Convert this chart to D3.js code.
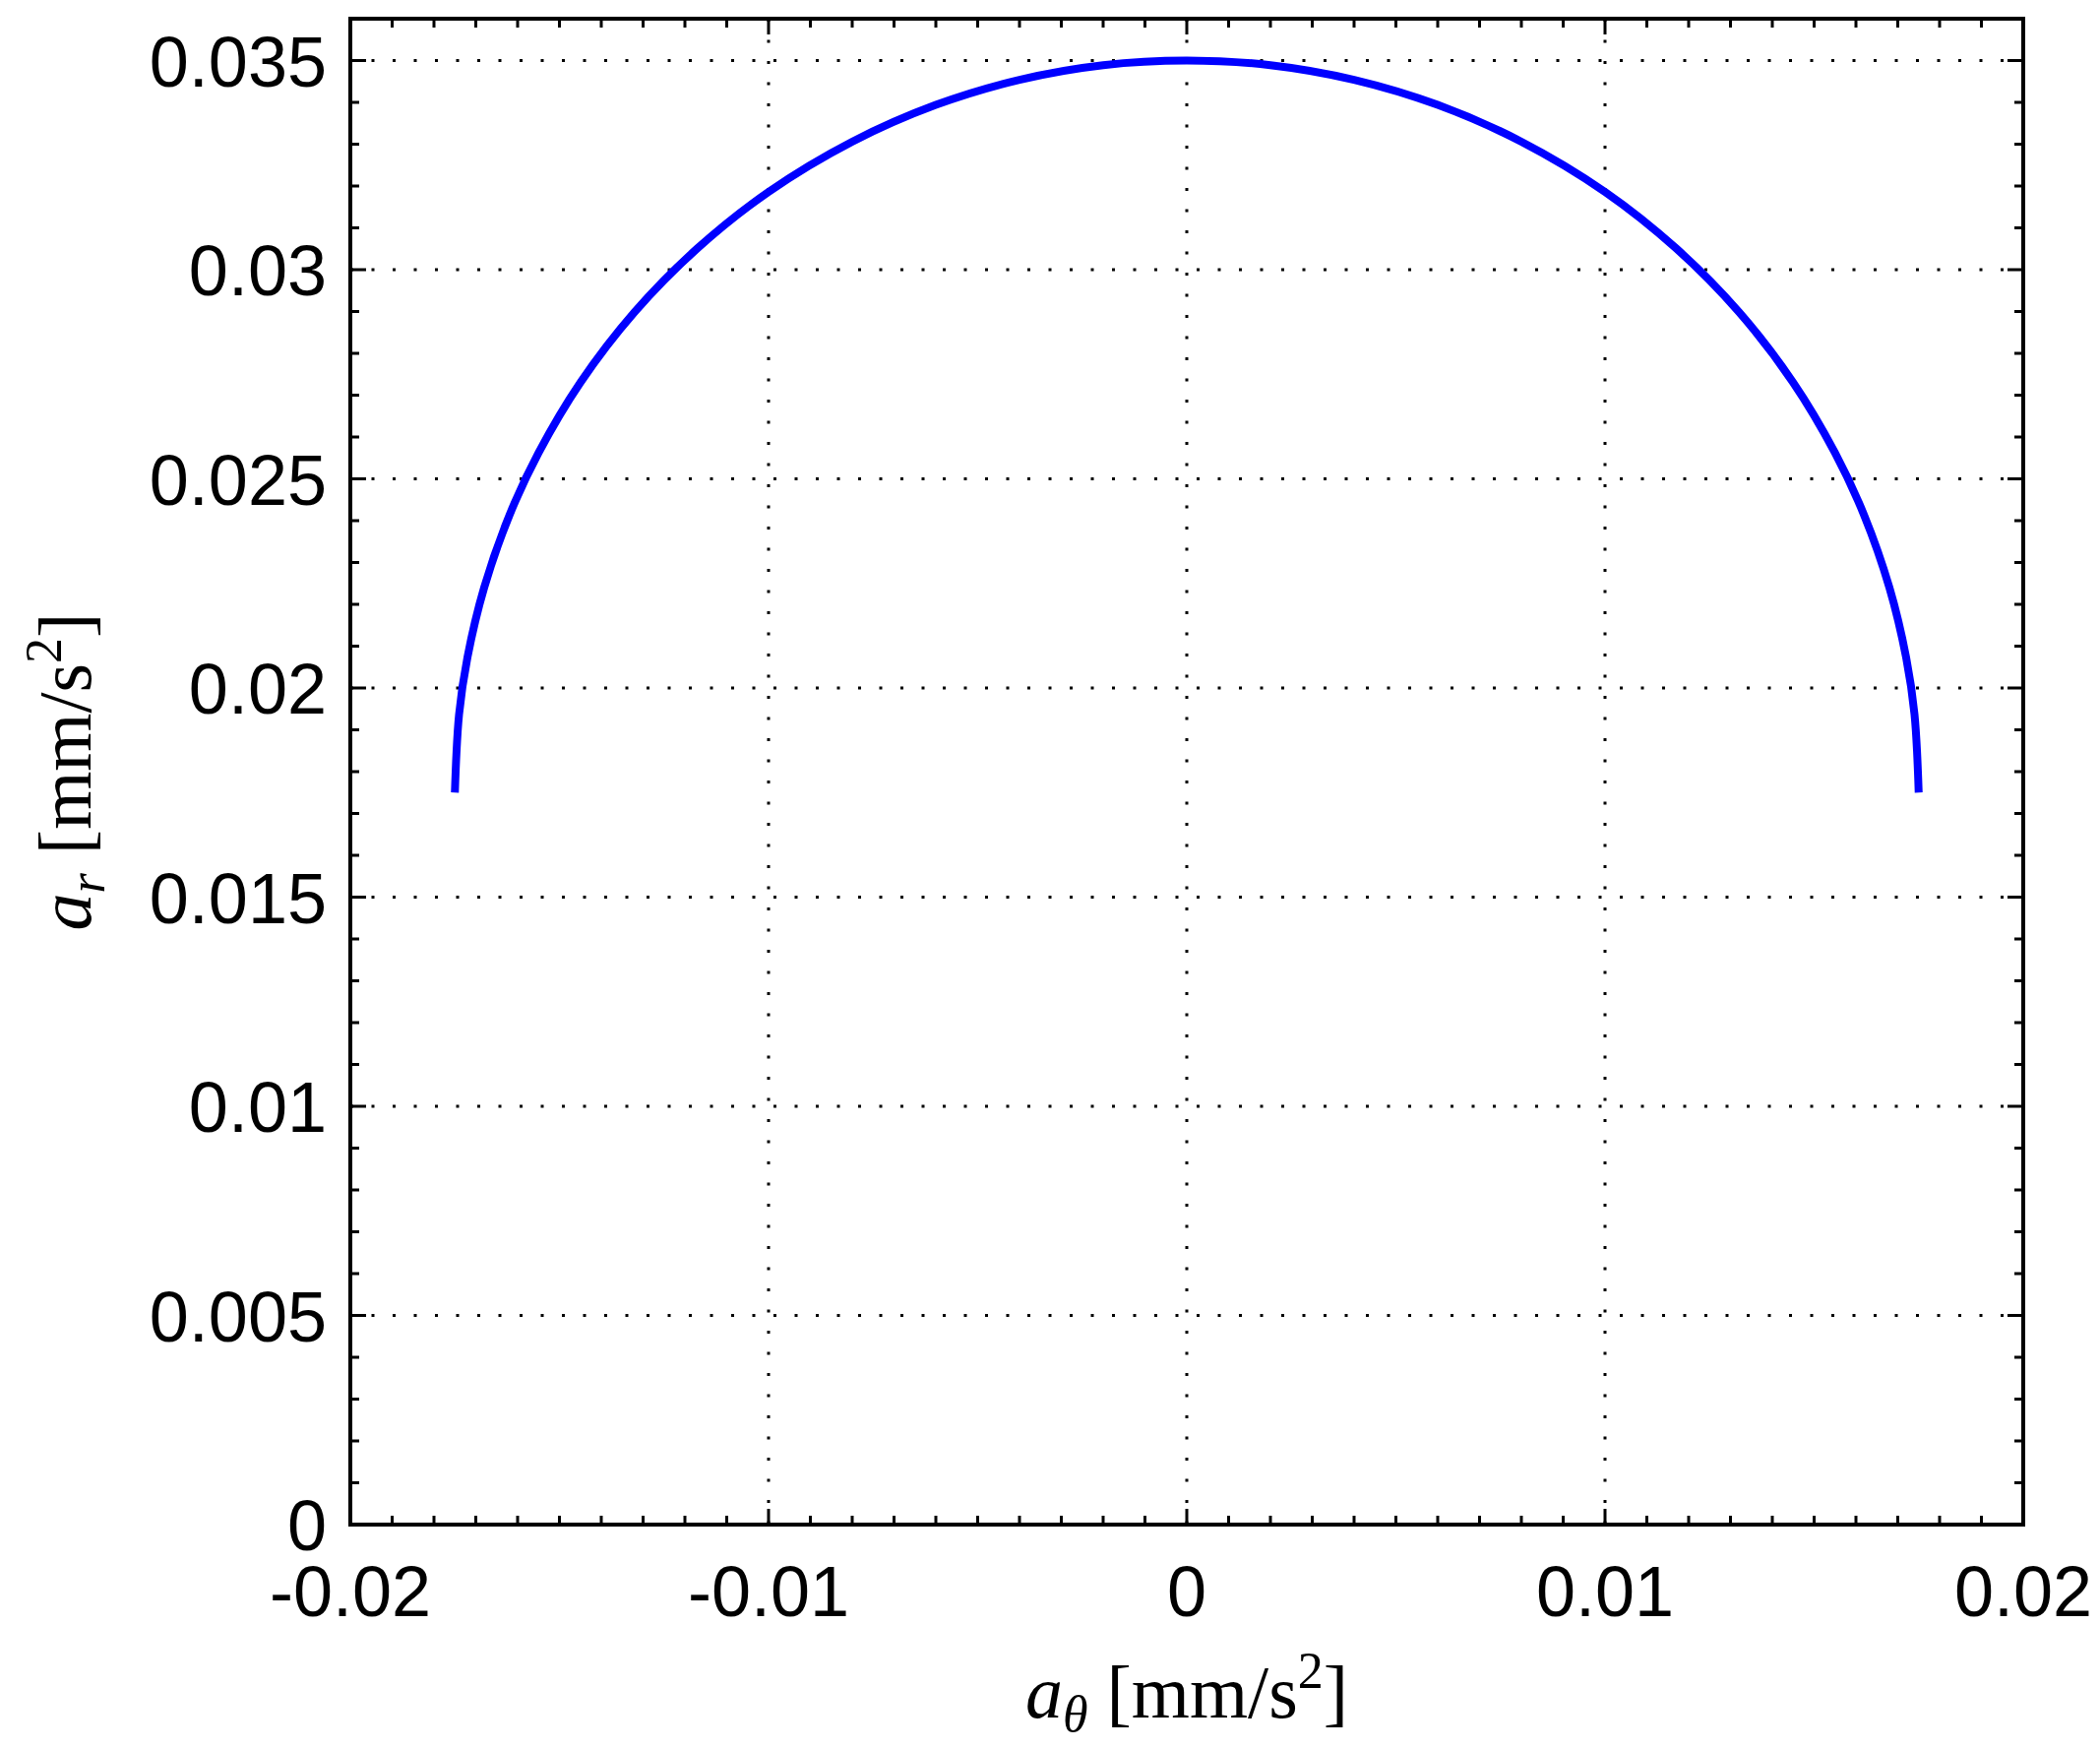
<!DOCTYPE html>
<html><head><meta charset="utf-8">
<script src="https://cdn.jsdelivr.net/npm/d3@7"></script>
<style>body{margin:0;background:#fff}</style>
</head><body><div id="vis"></div>
<script>
const xVals = [-0.0175,-0.0174,-0.0172,-0.0168,-0.0162,-0.0155,-0.0145,-0.0132,-0.0117,-0.01,-0.008,-0.006,-0.004,-0.002,0,
                0.002,0.004,0.006,0.008,0.01,0.0117,0.0132,0.0145,0.0155,0.0162,0.0168,0.0172,0.0174,0.0175];
const yVals = [0.0175,0.01937,0.02073,0.0224,0.02412,0.02562,0.0273,0.02899,0.03051,0.03186,0.03306,0.03394,0.03454,0.03489,0.035,
                0.03489,0.03454,0.03394,0.03306,0.03186,0.03051,0.02899,0.0273,0.02562,0.02412,0.0224,0.02073,0.01937,0.0175];
const xTicks = [-0.02,-0.01,0,0.01,0.02];
const xTickLabels = ['-0.02','-0.01','0','0.01','0.02'];
const yTicks = [0,0.005,0.01,0.015,0.02,0.025,0.03,0.035];
const yTickLabels = ['0','0.005','0.01','0.015','0.02','0.025','0.03','0.035'];

let W = 2134, H = 1777;
let m = {left: 356, right: 2056, top: 19, bottom: 1549};

let svg = d3.select('#vis').append('svg').attr('width', W).attr('height', H);

let x = d3.scaleLinear().domain([-0.02, 0.02]).range([m.left, m.right]);
let y = d3.scaleLinear().domain([0, 0.036]).range([m.bottom, m.top]);

// grid
svg.append('g').selectAll('line').data(xTicks.slice(1, -1)).enter().append('line')
    .attr('x1', d => x(d)).attr('x2', d => x(d)).attr('y1', m.top).attr('y2', m.bottom)
    .attr('stroke', '#000').attr('stroke-width', 3).attr('stroke-dasharray', '3,18.5');
svg.append('g').selectAll('line').data(yTicks.slice(1)).enter().append('line')
    .attr('x1', m.left).attr('x2', m.right).attr('y1', d => y(d)).attr('y2', d => y(d))
    .attr('stroke', '#000').attr('stroke-width', 3).attr('stroke-dasharray', '3,18.5');

// ticks inward, all four sides
let minorX = d3.range(-0.02, 0.02001, 0.001);
let minorY = d3.range(0, 0.03601, 0.001);
let tk = svg.append('g').attr('stroke', '#000').attr('stroke-width', 3);
minorX.forEach(v => {
    let big = xTicks.some(t => Math.abs(t - v) < 1e-9), L = big ? 16 : 9;
    tk.append('line').attr('x1', x(v)).attr('x2', x(v)).attr('y1', m.bottom).attr('y2', m.bottom - L);
    tk.append('line').attr('x1', x(v)).attr('x2', x(v)).attr('y1', m.top).attr('y2', m.top + L);
});
minorY.forEach(v => {
    let big = yTicks.some(t => Math.abs(t - v) < 1e-9), L = big ? 16 : 9;
    tk.append('line').attr('y1', y(v)).attr('y2', y(v)).attr('x1', m.left).attr('x2', m.left + L);
    tk.append('line').attr('y1', y(v)).attr('y2', y(v)).attr('x1', m.right).attr('x2', m.right - L);
});

// curve
let line = d3.line().x(d => x(d[0])).y(d => y(d[1])).curve(d3.curveCatmullRom);
svg.append('path').datum(d3.zip(xVals, yVals))
    .attr('d', line).attr('fill', 'none').attr('stroke', '#0000ff').attr('stroke-width', 8);

// box
svg.append('rect').attr('x', m.left).attr('y', m.top).attr('width', m.right - m.left).attr('height', m.bottom - m.top)
    .attr('fill', 'none').attr('stroke', '#000').attr('stroke-width', 4);

// tick labels
svg.append('g').selectAll('text').data(xTicks).enter().append('text')
    .attr('x', d => x(d)).attr('y', m.bottom + 93).attr('text-anchor', 'middle')
    .attr('font-family', 'Liberation Sans, Arial, sans-serif').attr('font-size', 72)
    .text((d, i) => xTickLabels[i]);
svg.append('g').selectAll('text').data(yTicks).enter().append('text')
    .attr('x', m.left - 24).attr('y', d => y(d) + 26).attr('text-anchor', 'end')
    .attr('font-family', 'Liberation Sans, Arial, sans-serif').attr('font-size', 72)
    .text((d, i) => yTickLabels[i]);

// axis labels
let xl = svg.append('text').attr('x', (m.left + m.right) / 2).attr('y', 1745).attr('text-anchor', 'middle')
    .attr('font-family', 'Liberation Serif, serif').attr('font-size', 76);
xl.append('tspan').attr('font-style', 'italic').text('a');
xl.append('tspan').attr('font-style', 'italic').attr('font-size', 52).attr('dy', 14).text('θ');
xl.append('tspan').attr('dy', -14).text('  [mm/s');
xl.append('tspan').attr('font-size', 52).attr('dy', -30).text('2');
xl.append('tspan').attr('dy', 30).text(']');

let yl = svg.append('text').attr('transform', 'translate(92,' + (m.top + m.bottom) / 2 + ') rotate(-90)')
    .attr('text-anchor', 'middle').attr('font-family', 'Liberation Serif, serif').attr('font-size', 76);
yl.append('tspan').attr('font-style', 'italic').text('a');
yl.append('tspan').attr('font-style', 'italic').attr('font-size', 52).attr('dy', 14).text('r');
yl.append('tspan').attr('dy', -14).text('  [mm/s');
yl.append('tspan').attr('font-size', 52).attr('dy', -30).text('2');
yl.append('tspan').attr('dy', 30).text(']');
</script>
</body></html>
